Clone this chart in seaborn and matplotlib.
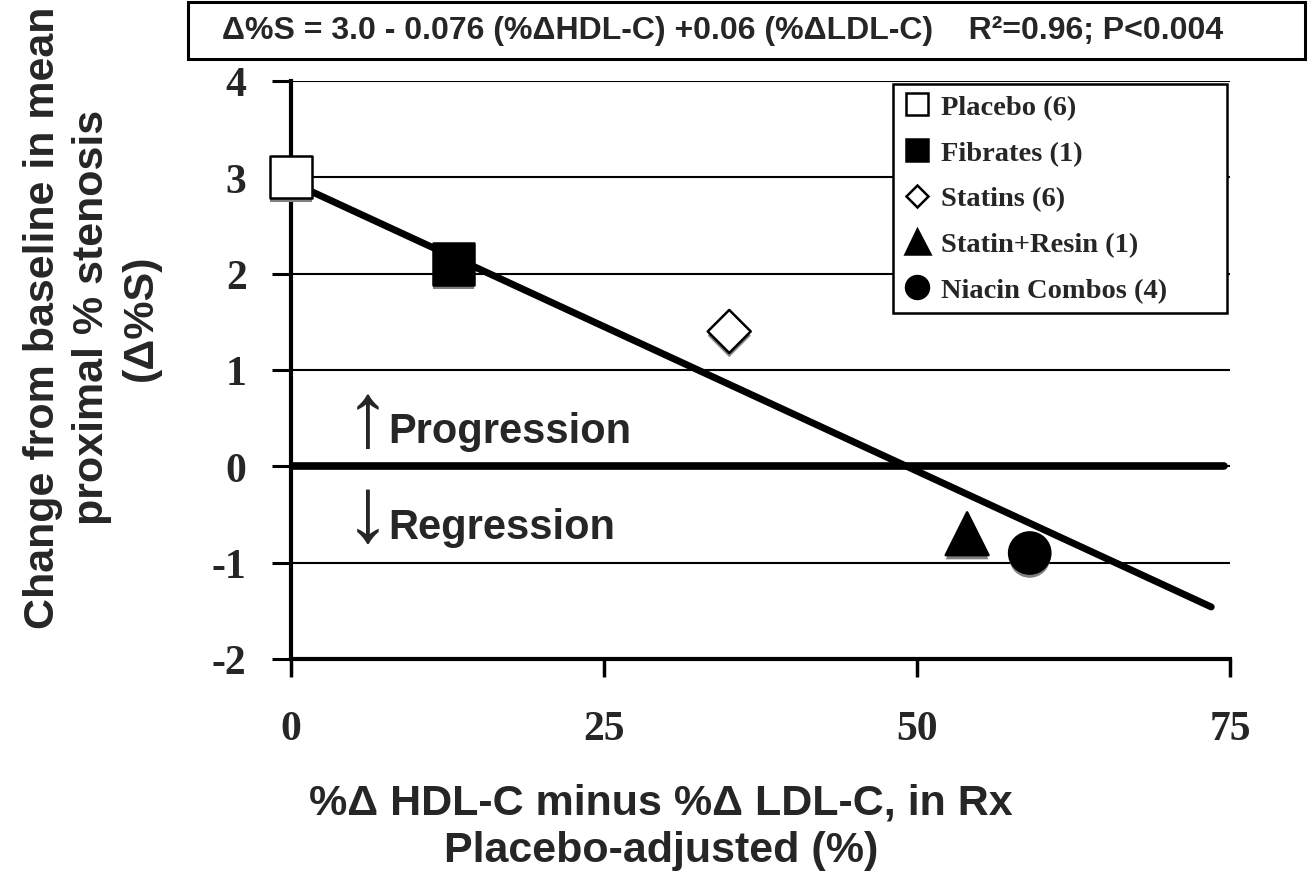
import pandas as pd
import matplotlib.pyplot as plt
import matplotlib.patheffects as pe
from matplotlib.lines import Line2D
from matplotlib.patches import Rectangle
import seaborn as sns

# Data
groups = ["Placebo (6)", "Fibrates (1)", "Statins (6)", "Statin+Resin (1)", "Niacin Combos (4)"]
hdl_minus_ldl = [0, 13, 35, 54, 59]
delta_stenosis = [3.0, 2.1, 1.4, -0.7, -0.9]

fit_x = [0, 73.5]
fit_y = [2.95, -1.46]

x_ticks = [0, 25, 50, 75]
y_ticks = [-2, -1, 0, 1, 2, 3, 4]

markers = {"Placebo (6)": "s", "Fibrates (1)": "s", "Statins (6)": "D",
           "Statin+Resin (1)": "^", "Niacin Combos (4)": "o"}
fills = {"Placebo (6)": "white", "Fibrates (1)": "black", "Statins (6)": "white",
         "Statin+Resin (1)": "black", "Niacin Combos (4)": "black"}
sizes = {"Placebo (6)": 900, "Fibrates (1)": 880, "Statins (6)": 480,
         "Statin+Resin (1)": 950, "Niacin Combos (4)": 880}

df = pd.DataFrame({"group": groups, "x": hdl_minus_ldl, "y": delta_stenosis})

sns.set_theme(style="ticks")
plt.rcParams["font.family"] = ["Liberation Sans", "DejaVu Sans"]
plt.rcParams["axes.unicode_minus"] = False

fig = plt.figure(figsize=(13.14, 8.95), dpi=100)
ax = fig.add_axes([0.2215, 0.2626, 0.7146, 0.6458])

# grid lines
ax.set_xlim(0, 75)
ax.set_ylim(-2, 4)
ax.set_xticks(x_ticks)
ax.set_yticks(y_ticks)
ax.yaxis.grid(True, color="black", linewidth=1.5)
ax.xaxis.grid(False)
ax.set_axisbelow(True)

# zero line and regression line
ax.axhline(0, xmin=0, xmax=0.994, color="black", linewidth=5.5, zorder=2)
sns.lineplot(x=fit_x, y=fit_y, color="black", linewidth=5, ax=ax, zorder=3)

sns.scatterplot(data=df, x="x", y="y", hue="group", style="group", size="group",
                palette=fills, markers=markers, sizes=sizes, edgecolor="black",
                linewidth=1.8, legend=False, ax=ax, zorder=4, clip_on=False)
for coll in ax.collections:
    coll.set_path_effects([pe.SimplePatchShadow(offset=(0, -3), shadow_rgbFace="0.5", alpha=1),
                           pe.Normal()])
    coll.set_clip_on(False)

for side in ["top", "right"]:
    ax.spines[side].set_visible(False)
for side in ["left", "bottom"]:
    ax.spines[side].set_linewidth(3)
    ax.spines[side].set_color("black")

ax.tick_params(axis="y", direction="out", length=14, width=2.2, pad=18, color="black")
ax.tick_params(axis="x", direction="out", length=13, width=2.5, pad=24, color="black")
for lab in ax.get_xticklabels() + ax.get_yticklabels():
    lab.set_fontfamily("Liberation Serif")
    lab.set_fontweight("bold")
    lab.set_fontsize(30)
ax.set_xlabel("")
ax.set_ylabel("")

# progression / regression annotations
ax.text(6.1, 0.22, "\u2191", fontsize=66, fontfamily="Liberation Sans", ha="center", va="baseline")
ax.text(7.75, 0.25, "Progression", fontsize=30, fontweight="bold", ha="left", va="baseline")
ax.text(6.1, -0.77, "\u2193", fontsize=66, fontfamily="Liberation Sans", ha="center", va="baseline")
ax.text(7.75, -0.74, "Regression", fontsize=30, fontweight="bold", ha="left", va="baseline")

# legend
handles = []
leg_ms = {"s": 16.5, "D": 11.5, "^": 18, "o": 16.5}
for g in groups:
    m = markers[g]
    handles.append(Line2D([], [], linestyle="none", marker=m, markersize=leg_ms[m],
                          markerfacecolor=fills[g], markeredgecolor="black", markeredgewidth=1.8))
leg = ax.legend(handles, groups, loc="upper left", bbox_to_anchor=(0.641, 0.606, 0.356, 0.389),
                mode="expand", borderaxespad=0, frameon=True, fancybox=False, framealpha=1,
                edgecolor="black", handlelength=1.0, handletextpad=0.35,
                labelspacing=0.70, borderpad=0.35,
                prop={"family": "Liberation Serif", "weight": "bold", "size": 20.5})
leg.get_frame().set_linewidth(1.8)

# equation box
fig.patches.append(Rectangle((0.143, 0.933), 0.850, 0.0637, transform=fig.transFigure,
                             fill=False, edgecolor="black", linewidth=2.2))
fig.text(0.169, 0.965,
         "\u0394%S = 3.0 - 0.076 (%\u0394HDL-C) +0.06 (%\u0394LDL-C)    R\u00b2=0.96; P<0.004",
         fontsize=23, fontweight="bold", ha="left", va="center")

# axis titles
fig.text(0.070, 0.645, "Change from baseline in mean\nproximal % stenosis\n(\u0394%S)",
         rotation=90, fontsize=31, fontweight="bold", ha="center", va="center",
         multialignment="center", linespacing=1.3)
fig.text(0.503, 0.076, "%\u0394 HDL-C minus %\u0394 LDL-C, in Rx\nPlacebo-adjusted (%)",
         fontsize=31, fontweight="bold", ha="center", va="center",
         multialignment="center", linespacing=1.25)

fig.savefig("out.png", dpi=100)
plt.close(fig)
